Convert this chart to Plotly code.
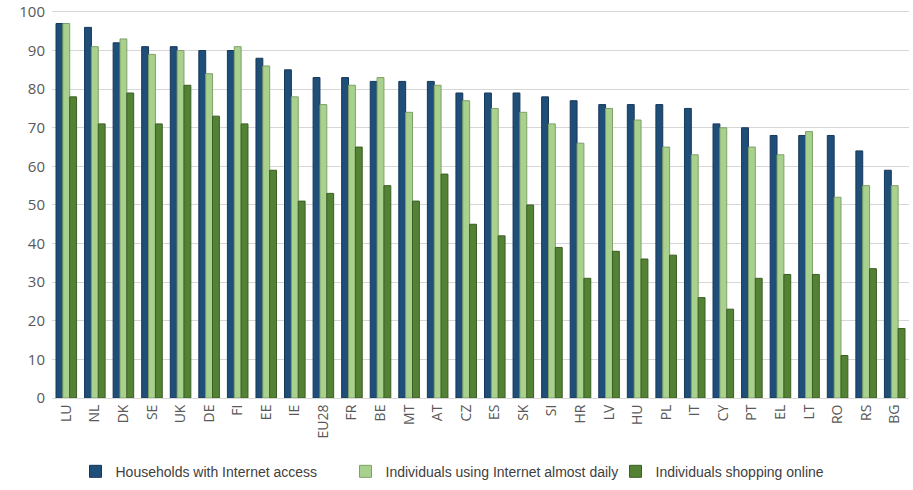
import plotly.graph_objects as go

countries = ["LU", "NL", "DK", "SE", "UK", "DE", "FI", "EE", "IE", "EU28",
             "FR", "BE", "MT", "AT", "CZ", "ES", "SK", "SI", "HR", "LV",
             "HU", "PL", "IT", "CY", "PT", "EL", "LT", "RO", "RS", "BG"]

households_access = [97, 96, 92, 91, 91, 90, 90, 88, 85, 83,
                     83, 82, 82, 82, 79, 79, 79, 78, 77, 76,
                     76, 76, 75, 71, 70, 68, 68, 68, 64, 59]

daily_users = [97, 91, 93, 89, 90, 84, 91, 86, 78, 76,
               81, 83, 74, 81, 77, 75, 74, 71, 66, 75,
               72, 65, 63, 70, 65, 63, 69, 52, 55, 55]

online_shoppers = [78, 71, 79, 71, 81, 73, 71, 59, 51, 53,
                   65, 55, 51, 58, 45, 42, 50, 39, 31, 38,
                   36, 37, 26, 23, 31, 32, 32, 11, 33.5, 18]

y_ticks = list(range(0, 101, 10))

series = [
    ("Households with Internet access", households_access, "#1F4E79", "#16385A"),
    ("Individuals using Internet almost daily", daily_users, "#A9D18E", "#7FA068"),
    ("Individuals shopping online", online_shoppers, "#548235", "#3B5E24"),
]

fig = go.Figure()
for name, values, fill, edge in series:
    fig.add_trace(go.Bar(
        x=countries, y=values, name=name,
        marker=dict(color=fill, line=dict(color=edge, width=1)),
    ))

fig.update_layout(
    width=913, height=490,
    margin=dict(l=52, r=4, t=10, b=92, autoexpand=False),
    paper_bgcolor="white", plot_bgcolor="white",
    barmode="group", bargap=0.28, bargroupgap=0.0,
    font=dict(family="Open Sans, Liberation Sans, sans-serif", color="#595959", size=13),
    xaxis=dict(tickangle=-90, showgrid=False, showline=True, linecolor="#D9D9D9",
               tickfont=dict(size=14, color="#595959"), ticks="", automargin=False),
    yaxis=dict(range=[0, 100.5], tickmode="array", tickvals=y_ticks,
               ticktext=[str(v) for v in y_ticks],
               showgrid=True, gridcolor="#D6D6D6",
               gridwidth=1, zeroline=False, ticks="", automargin=False,
               ticklabelstandoff=6, ticklabeloverflow="allow",
               tickfont=dict(size=15, color="#595959")),
    legend=dict(orientation="h", x=0.5, xanchor="center", y=-0.19, yanchor="middle",
                font=dict(family="Liberation Sans Narrow, Liberation Sans, sans-serif",
                          size=14, color="#404040"),
                itemwidth=30, tracegroupgap=0, entrywidthmode="pixels", entrywidth=225),
)

fig.write_html("out.html")
